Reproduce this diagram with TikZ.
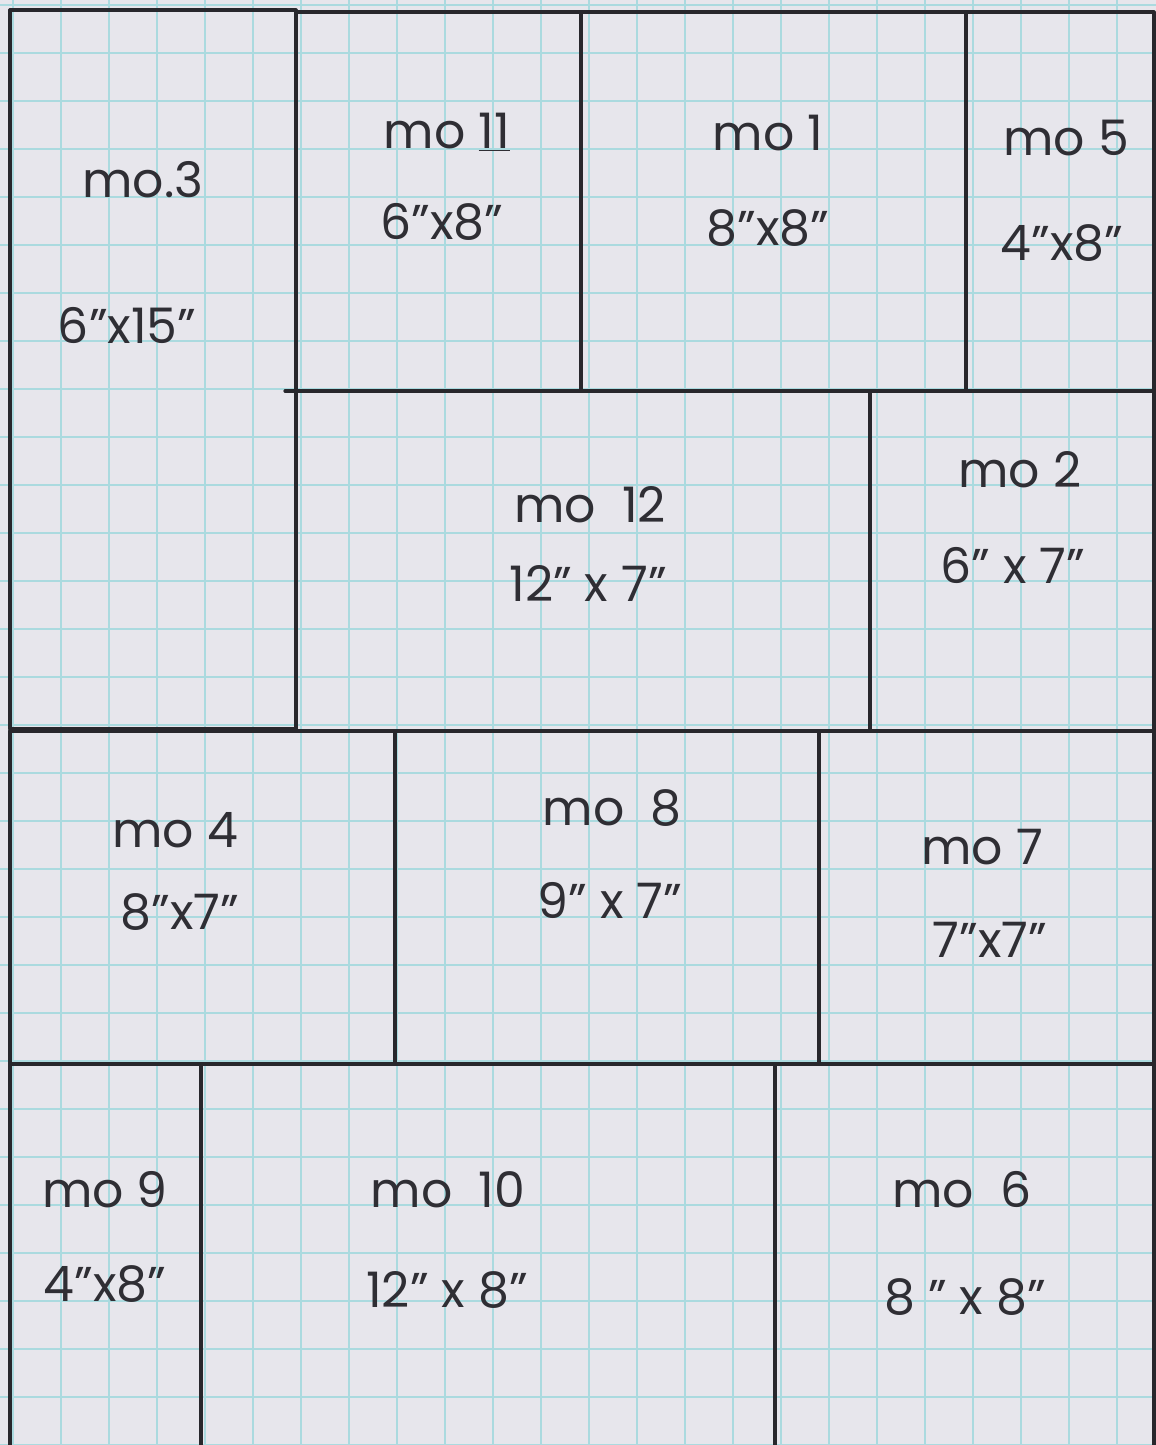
\documentclass[tikz,border=0pt]{standalone}
\usepackage{fontspec}
\setmainfont{Poppins}
\definecolor{paper}{HTML}{E7E6EC}
\definecolor{gridc}{HTML}{ABDADF}
\definecolor{ink}{HTML}{28272C}
\definecolor{txt}{HTML}{2F2E34}
\begin{document}
\begin{tikzpicture}[x=0.0208333cm,y=-0.0208333cm,
  blockline/.style={draw=ink,line width=1.9pt,line cap=round,line join=round},
  gridline/.style={draw=gridc,line width=1.5pt},
  lbl/.style={text=txt,font=\fontsize{29}{34}\selectfont,inner sep=0pt},
  ]
\fill[paper] (0,0) rectangle (1156,1445);
\useasboundingbox (0,0) rectangle (1156,1445);
\clip (0,0) rectangle (1156,1445);
% graph paper: one line per inch (48 px)
\foreach \i in {0,1,...,23} {
  \pgfmathsetmacro{\gx}{13+48*\i}
  \draw[gridline] (\gx,0) -- (\gx,1445);
}
\foreach \j in {0,1,...,30} {
  \pgfmathsetmacro{\gy}{5+48*\j}
  \draw[gridline] (0,\gy) -- (1156,\gy);
}
% blocks
\draw[blockline] (10,10) rectangle (296,729);   % mo 3
\draw[blockline] (296,12) rectangle (581,391);  % mo 11
\draw[blockline] (581,12) rectangle (966,391);  % mo 1
\draw[blockline] (966,12) rectangle (1154,391); % mo 5
\draw[blockline] (285,391) -- (296,391);
\draw[blockline] (296,391) rectangle (870,731); % mo 12
\draw[blockline] (870,391) rectangle (1154,731);% mo 2
\draw[blockline] (10,731) rectangle (395,1064); % mo 4
\draw[blockline] (395,731) rectangle (819,1064);% mo 8
\draw[blockline] (819,731) rectangle (1154,1064);% mo 7
\draw[blockline] (10,1064) rectangle (201,1470); % mo 9
\draw[blockline] (201,1064) rectangle (775,1470);% mo 10
\draw[blockline] (775,1064) rectangle (1154,1470);% mo 6
% labels
\node[lbl] (n3) at (143,180) {mo.3};
\node[lbl] (d3) at (127,325) {6"x15"};
\node[lbl] (n11) at (447,132) {mo \underline{11}};
\node[lbl] (d11) at (442,222) {6"x8"};
\node[lbl] (n1) at (768,133) {mo 1};
\node[lbl] (d1) at (768,228) {8"x8"};
\node[lbl] (n5) at (1066,138) {mo 5};
\node[lbl] (d5) at (1062,243) {4"x8"};
\node[lbl] (n12) at (590,505) {mo\ \ 12};
\node[lbl] (d12) at (588,583) {12" x 7"};
\node[lbl] (n2) at (1020,470) {mo 2};
\node[lbl] (d2) at (1013,565) {6" x 7"};
\node[lbl] (n4) at (175,830) {mo 4};
\node[lbl] (d4) at (180,912) {8"x7"};
\node[lbl] (n8) at (612,808) {mo\ \ 8};
\node[lbl] (d8) at (610,900) {9" x 7"};
\node[lbl] (n7) at (982,847) {mo 7};
\node[lbl] (d7) at (990,940) {7"x7"};
\node[lbl] (n9) at (105,1190) {mo 9};
\node[lbl] (d9) at (105,1284) {4"x8"};
\node[lbl] (n10) at (448,1190) {mo\ \ 10};
\node[lbl] (d10) at (447,1290) {12" x 8"};
\node[lbl] (n6) at (962,1190) {mo\ \ 6};
\node[lbl] (d6) at (965,1297) {8 " x 8"};
\end{tikzpicture}
\end{document}
